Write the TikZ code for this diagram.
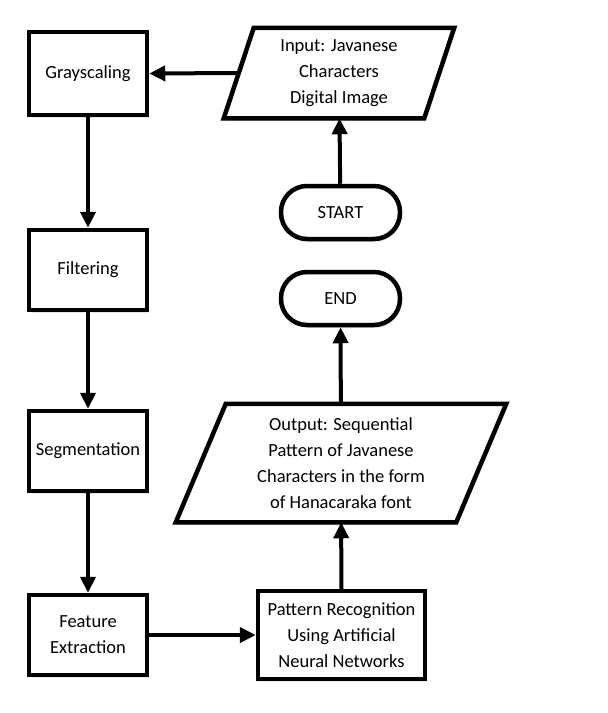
\documentclass[tikz,border=0pt]{standalone}
\usepackage{fontspec}
\setmainfont{Carlito}
\usetikzlibrary{arrows.meta,shadows,calc}
\begin{document}
\begin{tikzpicture}[x=1pt,y=-1pt,
  txt/.style={align=center,font=\fontsize{18.5}{26}\selectfont,inner sep=0pt,line width=4.5pt},
  box/.style={txt,draw,fill=white,drop shadow={fill=black!30,opacity=0.3,shadow xshift=1.5pt,shadow yshift=-3pt}},
  term/.style={box,rounded corners=26pt},
  para/.style={line width=4.5pt,fill=white,drop shadow={fill=black!30,opacity=0.3,shadow xshift=1.5pt,shadow yshift=-3pt}},
  arr/.style={line width=4pt,-{Triangle[length=16pt,width=15pt]}}]
\useasboundingbox (0,0) rectangle (608,713);
\fill[white] (0,0) rectangle (608,713);
% left column
\node[box,minimum width=118pt,minimum height=83pt] (gray) at (88,73.5) {Grayscaling};
\node[box,minimum width=118pt,minimum height=80pt] (filt) at (88,270) {Filtering};
\node[box,minimum width=118pt,minimum height=80pt] (seg) at (88,451) {Segmentation};
\node[box,minimum width=118pt,minimum height=80pt] (feat) at (88,635) {Feature\\Extraction};
% right column
\node[box,minimum width=167pt,minimum height=88pt] (pat) at (341.5,635) {Pattern Recognition\\Using Artificial\\Neural Networks};
\node[term,minimum width=119pt,minimum height=53pt] (start) at (340.5,212.5) {START};
\node[term,minimum width=119pt,minimum height=53pt] (end) at (340.5,298.5) {END};
% input parallelogram
\node[txt,minimum width=196pt,minimum height=86pt] (inp) at (339,73) {};
\path[para,draw] ($(inp.north west)+(15pt,0pt)$) -- ($(inp.north east)+(15pt,0pt)$) -- ($(inp.south east)+(-15pt,0pt)$) -- ($(inp.south west)+(-15pt,0pt)$) -- cycle;
\node[txt] (inptxt) at (inp) {Input: Javanese\\Characters\\Digital Image};
% output parallelogram
\node[txt,minimum width=276pt,minimum height=114pt] (outp) at (341,463) {};
\path[para,draw] ($(outp.north west)+(25pt,0pt)$) -- ($(outp.north east)+(25pt,0pt)$) -- ($(outp.south east)+(-25pt,0pt)$) -- ($(outp.south west)+(-25pt,0pt)$) -- cycle;
\node[txt] (outtxt) at (outp) {Output: Sequential\\Pattern of Javanese\\Characters in the form\\of Hanacaraka font};
% connectors
\draw[arr] (inp.west) -- (gray.east);
\draw[arr] (gray) -- (filt);
\draw[arr] (filt) -- (seg);
\draw[arr] (seg) -- (feat);
\draw[arr] (feat) -- (pat);
\draw[arr] (start) -- (inp);
\draw[arr] (pat) -- (outp);
\draw[arr] (outp) -- (end);
\end{tikzpicture}
\end{document}
